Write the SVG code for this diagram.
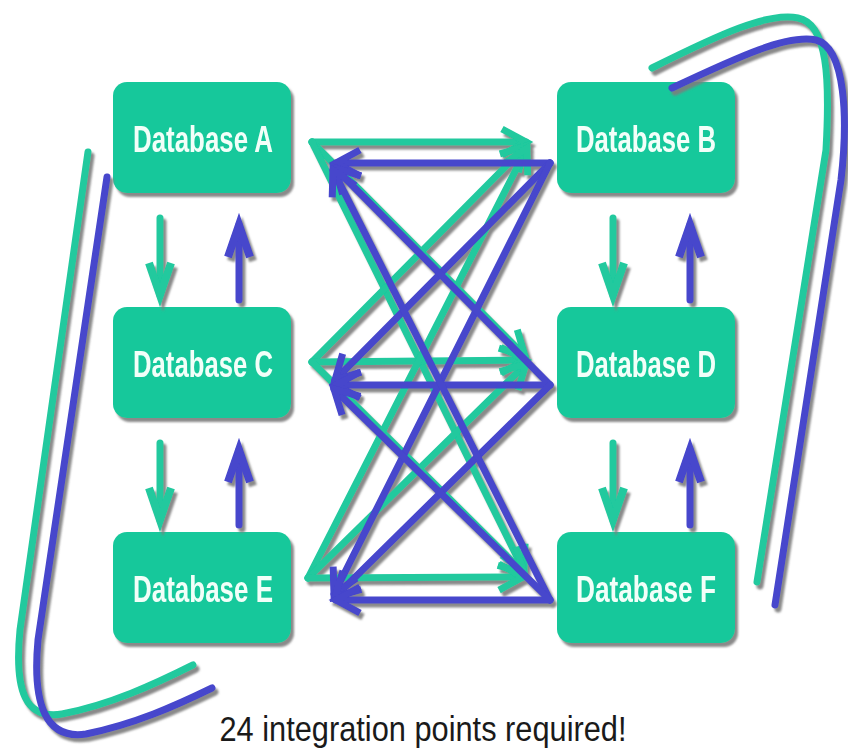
<svg xmlns="http://www.w3.org/2000/svg" width="848" height="748" viewBox="0 0 848 748">
<style>
.box{fill:#16C89B}
.lbl{font-family:"Liberation Sans",Arial,sans-serif;font-weight:bold;font-size:37px;fill:#F2FFF9;text-anchor:middle}
.g{stroke:#20C99E;stroke-width:7;fill:none;stroke-linecap:round}
.b{stroke:#4646CC;stroke-width:7;fill:none;stroke-linecap:round}
.gx{marker-end:url(#hg)}
.bx{marker-end:url(#hb)}
.gv{marker-end:url(#vg)}
.bv{marker-end:url(#vb)}
.cap{font-family:"Liberation Sans",Arial,sans-serif;font-size:35px;fill:#1a1a1a;text-anchor:middle}
</style>
<defs>
<filter id="sh" x="-10%" y="-10%" width="120%" height="120%">
<feDropShadow dx="3" dy="4" stdDeviation="0.8" flood-color="#7d7d7d" flood-opacity="0.9"/>
</filter>
<marker id="hg" markerUnits="userSpaceOnUse" viewBox="-40 -25 55 50" markerWidth="55" markerHeight="50" refX="0" refY="0" orient="auto" overflow="visible">
<path d="M-24,-13 L0,0 L-24,13" fill="none" stroke="#20C99E" stroke-width="7"/>
</marker>
<marker id="hb" markerUnits="userSpaceOnUse" viewBox="-40 -25 55 50" markerWidth="55" markerHeight="50" refX="0" refY="0" orient="auto" overflow="visible">
<path d="M-24,-13 L0,0 L-24,13" fill="none" stroke="#4646CC" stroke-width="7"/>
</marker>
<marker id="vg" markerUnits="userSpaceOnUse" viewBox="-45 -25 60 50" markerWidth="60" markerHeight="50" refX="0" refY="0" orient="auto" overflow="visible">
<path d="M-32,-11 L0,0 L-32,11" fill="none" stroke="#20C99E" stroke-width="8"/>
</marker>
<marker id="vb" markerUnits="userSpaceOnUse" viewBox="-45 -25 60 50" markerWidth="60" markerHeight="50" refX="0" refY="0" orient="auto" overflow="visible">
<path d="M-32,-11 L0,0 L-32,11" fill="none" stroke="#4646CC" stroke-width="8"/>
</marker>
</defs>
<rect width="848" height="748" fill="#FFFFFF"/>

<g id="nodes" filter="url(#sh)">
<g id="dbA"><rect class="box" x="113" y="82" width="178" height="111" rx="14"/><text class="lbl" x="203" y="152" textLength="140" lengthAdjust="spacingAndGlyphs">Database A</text></g>
<g id="dbB"><rect class="box" x="557" y="82" width="178" height="111" rx="14"/><text class="lbl" x="646" y="152" textLength="140" lengthAdjust="spacingAndGlyphs">Database B</text></g>
<g id="dbC"><rect class="box" x="113" y="307" width="178" height="111" rx="14"/><text class="lbl" x="203" y="377" textLength="140" lengthAdjust="spacingAndGlyphs">Database C</text></g>
<g id="dbD"><rect class="box" x="557" y="307" width="178" height="111" rx="14"/><text class="lbl" x="646" y="377" textLength="140" lengthAdjust="spacingAndGlyphs">Database D</text></g>
<g id="dbE"><rect class="box" x="113" y="532" width="178" height="111" rx="14"/><text class="lbl" x="203" y="602" textLength="140" lengthAdjust="spacingAndGlyphs">Database E</text></g>
<g id="dbF"><rect class="box" x="557" y="532" width="178" height="111" rx="14"/><text class="lbl" x="646" y="602" textLength="140" lengthAdjust="spacingAndGlyphs">Database F</text></g>
</g>

<g id="connectors" filter="url(#sh)">
<!-- vertical -->
<line class="g gv" x1="160" y1="218" x2="160" y2="295"/>
<line class="b bv" x1="239" y1="300" x2="239" y2="225"/>
<line class="g gv" x1="160" y1="443" x2="160" y2="520"/>
<line class="b bv" x1="239" y1="525" x2="239" y2="450"/>
<line class="g gv" x1="613" y1="218" x2="613" y2="295"/>
<line class="b bv" x1="690" y1="300" x2="690" y2="225"/>
<line class="g gv" x1="613" y1="443" x2="613" y2="520"/>
<line class="b bv" x1="690" y1="525" x2="690" y2="450"/>
<!-- green crossing -->
<line class="g gx" x1="312" y1="142" x2="526" y2="142"/>
<line class="g gx" x1="312" y1="142" x2="525" y2="356"/>
<line class="g gx" x1="312" y1="142" x2="524" y2="571"/>
<line class="g gx" x1="312" y1="362" x2="526" y2="146"/>
<line class="g gx" x1="312" y1="362" x2="525" y2="360"/>
<line class="g gx" x1="312" y1="362" x2="524" y2="573"/>
<line class="g gx" x1="308" y1="578" x2="527" y2="148"/>
<line class="g gx" x1="308" y1="578" x2="526" y2="364"/>
<line class="g gx" x1="308" y1="578" x2="523" y2="577"/>
<!-- blue crossing -->
<line class="b bx" x1="550" y1="163" x2="336" y2="163"/>
<line class="b bx" x1="550" y1="163" x2="335" y2="380"/>
<line class="b bx" x1="550" y1="163" x2="334" y2="594"/>
<line class="b bx" x1="550" y1="385" x2="335" y2="168"/>
<line class="b bx" x1="550" y1="385" x2="336" y2="385"/>
<line class="b bx" x1="550" y1="385" x2="335" y2="597"/>
<line class="b bx" x1="550" y1="600" x2="333" y2="170"/>
<line class="b bx" x1="550" y1="600" x2="334" y2="389"/>
<line class="b bx" x1="550" y1="600" x2="336" y2="600"/>
<!-- outer curves -->
<path class="g" d="M88,152 L20,630 C14,692 26,720 62,714 C110,705 155,684 193,665"/>
<path class="b" d="M107,177 L38,640 C32,705 46,740 86,734 C135,724 175,706 212,688"/>
<path class="g" d="M652,68 C720,34 768,12 798,18 C828,24 830,80 826,150 L757,582"/>
<path class="b" d="M672,88 C740,56 788,34 816,40 C846,48 848,120 841,180 L775,605"/>
</g>

<text class="cap" x="423" y="741" textLength="407" lengthAdjust="spacingAndGlyphs">24 integration points required!</text>
</svg>
